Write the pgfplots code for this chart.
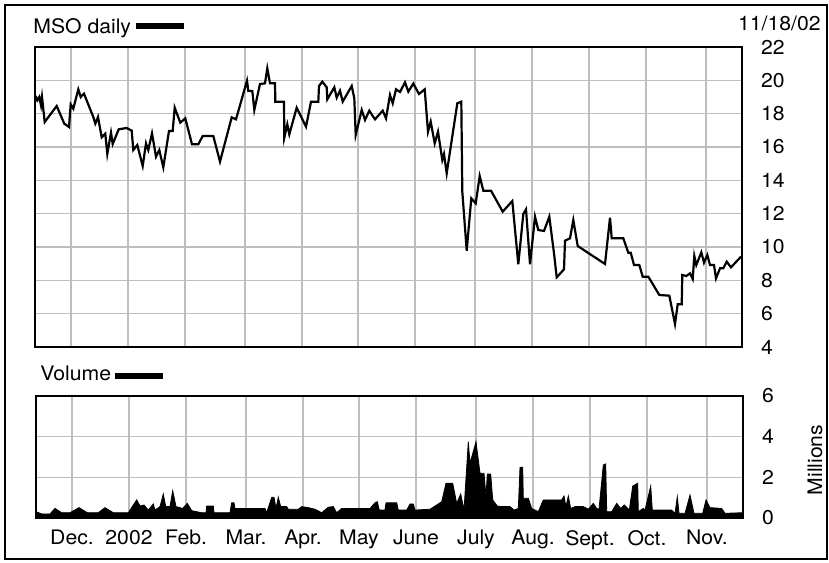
\documentclass[border=0pt]{standalone}
\usepackage{pgfplots}
\pgfplotsset{compat=1.18}
\usepackage{pgfplotstable}
\usepackage{fontspec}
\setmainfont{TeX Gyre Heros}[FakeStretch=1.06]
\definecolor{gridgray}{RGB}{190,190,190}

% x: position along the year (0 = 19 Nov 2001, 707 = 18 Nov 2002)
\pgfplotstableread{
x price
0.7 19.06
2.3 18.80
4.3 19.00
6.0 18.50
7.0 19.00
9.7 17.50
21.7 18.46
29.3 17.40
34.0 17.20
35.7 18.56
38.3 18.30
43.3 19.46
45.7 19.00
49.0 19.20
58.3 17.80
60.3 17.40
63.0 17.80
66.7 16.58
70.3 16.80
72.3 15.58
76.0 16.86
77.7 16.18
83.7 17.06
91.7 17.14
96.7 16.98
98.3 15.82
102.3 16.12
107.7 14.86
111.0 16.22
113.3 15.82
117.0 16.82
121.0 15.42
124.3 15.82
128.3 14.78
134.0 16.96
137.7 16.96
139.7 18.36
145.3 17.46
150.3 17.72
157.0 16.16
163.3 16.16
167.7 16.66
178.3 16.66
185.0 15.12
196.7 17.78
201.0 17.66
212.0 19.98
213.3 19.36
217.3 19.36
219.3 18.22
225.0 19.78
230.0 19.82
232.3 20.72
235.0 19.82
240.0 19.82
240.3 18.72
249.0 18.72
249.3 16.56
252.3 17.36
254.3 16.76
261.7 18.36
271.0 17.22
276.0 18.72
283.3 18.72
284.0 19.66
287.3 19.92
291.7 19.58
292.3 18.86
299.3 19.58
301.7 18.96
305.0 19.38
307.7 18.72
316.7 19.66
319.3 18.92
320.7 16.72
326.7 18.22
330.0 17.62
334.3 18.18
340.0 17.66
347.7 18.18
351.0 17.72
355.0 19.12
357.7 18.62
361.0 19.46
365.0 19.30
370.0 19.88
373.3 19.32
378.3 19.80
384.0 19.18
389.7 19.46
393.0 16.92
395.7 17.52
399.7 16.22
403.0 16.92
407.3 15.22
409.0 15.58
411.7 14.42
422.3 18.62
426.3 18.72
427.3 13.32
431.7 9.78
436.3 12.92
440.7 12.62
444.7 14.26
448.3 13.38
456.0 13.38
467.7 12.12
477.3 12.76
483.3 8.96
488.3 11.98
491.0 12.26
495.0 8.96
500.0 11.82
503.3 11.02
509.0 10.96
514.3 11.82
519.0 9.62
521.7 8.18
529.0 8.66
530.0 10.38
535.0 10.52
538.3 11.62
542.7 10.06
570.0 8.98
575.0 11.76
576.7 10.52
588.3 10.52
593.3 9.66
595.7 9.66
599.0 8.92
604.3 8.92
607.7 8.22
613.3 8.22
624.3 7.12
634.3 7.08
640.0 5.38
642.7 6.56
646.7 6.56
647.3 8.32
651.3 8.26
655.0 8.42
657.7 8.08
659.3 9.46
661.3 8.92
666.3 9.68
669.0 9.06
672.3 9.52
675.0 8.92
679.0 8.92
681.0 8.12
685.0 8.72
688.3 8.72
691.7 9.12
696.0 8.78
706.0 9.42
}\pricedata

% volume in millions of shares
\pgfplotstableread{
x vol
0.0 0.31
5.7 0.20
14.0 0.20
19.0 0.47
25.7 0.26
34.0 0.26
43.0 0.51
51.3 0.26
62.3 0.26
69.0 0.51
77.3 0.26
92.3 0.26
100.7 0.89
104.0 0.59
108.0 0.64
112.3 0.39
117.3 0.69
119.0 0.39
124.0 0.56
127.3 1.18
129.7 0.56
134.0 0.56
136.7 1.34
140.0 0.56
146.7 0.47
151.3 0.72
155.7 0.36
165.7 0.26
170.0 0.26
170.7 0.59
177.3 0.59
178.0 0.26
194.0 0.26
195.7 0.75
198.0 0.75
199.0 0.47
229.0 0.47
230.7 0.26
235.7 1.02
238.0 1.02
240.0 0.47
242.3 1.02
244.7 0.56
250.7 0.56
252.3 0.43
262.3 0.43
265.7 0.56
272.3 0.51
279.0 0.43
285.7 0.26
292.3 0.53
297.3 0.56
300.7 0.26
305.7 0.47
334.0 0.47
339.0 0.75
341.3 0.80
343.3 0.39
349.0 0.39
350.0 0.75
360.7 0.75
362.3 0.39
370.7 0.39
374.0 0.69
377.3 0.69
379.0 0.39
394.0 0.43
405.7 0.80
410.0 1.71
416.7 1.71
420.7 0.72
424.7 1.18
428.0 0.39
432.3 3.75
434.0 2.69
440.0 3.75
444.0 2.20
448.0 2.20
450.0 1.05
451.3 2.16
454.7 2.16
456.7 0.89
461.3 0.59
465.7 0.56
474.0 0.56
478.0 0.39
482.3 0.47
484.0 2.49
486.7 2.49
487.3 0.97
492.3 0.97
495.7 0.47
502.3 0.31
507.3 0.89
525.7 0.89
528.0 1.08
530.0 0.56
532.3 1.08
534.7 0.47
539.0 0.56
547.3 0.56
552.3 0.43
557.3 0.72
560.7 0.47
563.0 0.43
567.3 2.61
569.7 2.66
570.7 0.31
575.7 0.31
580.7 0.72
584.7 0.47
588.3 0.64
593.3 0.39
596.7 1.57
601.7 1.71
602.3 0.31
607.3 0.47
609.0 0.39
614.7 1.57
616.3 0.39
635.7 0.39
639.0 0.23
641.3 1.05
643.0 0.23
649.0 0.23
654.0 1.13
658.0 0.23
666.7 0.23
670.0 0.89
674.0 0.51
685.7 0.47
689.0 0.23
707.0 0.26
}\voldata

\pgfplotsset{
  mso/.style={
    scale only axis, anchor=south west,
    xmin=0, xmax=707,
    xtick={36,93,150,210,267,323,380,440,497,554,611,671},
    grid=major, grid style={gridgray, line width=0.8pt},
    tick style={draw=none},
    axis line style={line width=1pt},
    yticklabel pos=right,
    yticklabel style={anchor=west, xshift=6pt},
    /pgf/number format/assume math mode=true,
  }
}

\begin{document}
\fontsize{10}{12}\selectfont
\begin{tikzpicture}
\useasboundingbox (0pt,0pt) rectangle (414.5pt,281pt);
\draw[line width=1pt] (2.5pt,1.5pt) rectangle (413.5pt,278.5pt);

\begin{axis}[mso,
  at={(17.5pt,107.5pt)}, width=353.5pt, height=150pt,
  ymin=4, ymax=22, ytick={4,6,...,22},
  xticklabels={},
]
\addplot[black, line width=1.1pt, no markers] table[x=x, y=price] {\pricedata};
\end{axis}

\begin{axis}[mso,
  at={(18pt,22pt)}, width=353.5pt, height=61pt,
  ymin=0, ymax=6, ytick={0,2,4,6},
  xticklabels={Dec.,2002,Feb.,Mar.,Apr.,May,June,July,Aug.,Sept.,Oct.,Nov.},
  xticklabel style={yshift=-2.5pt},
]
\addplot[black, fill=black, line width=0.4pt, no markers] table[x=x, y=vol] {\voldata} \closedcycle;
\end{axis}

\node[anchor=base west, inner sep=0] at (16.5pt,264.3pt) {MSO daily};
\fill (68pt,266.5pt) rectangle (92pt,269.5pt);
\node[anchor=base east, inner sep=0] at (410.5pt,265.5pt) {11/18/02};
\node[anchor=base west, inner sep=0] at (20pt,90.5pt) {Volume};
\fill (57.5pt,91.5pt) rectangle (81.5pt,94.5pt);
\node[rotate=90, inner sep=0] at (407.5pt,51pt) {Millions};
\end{tikzpicture}
\end{document}
